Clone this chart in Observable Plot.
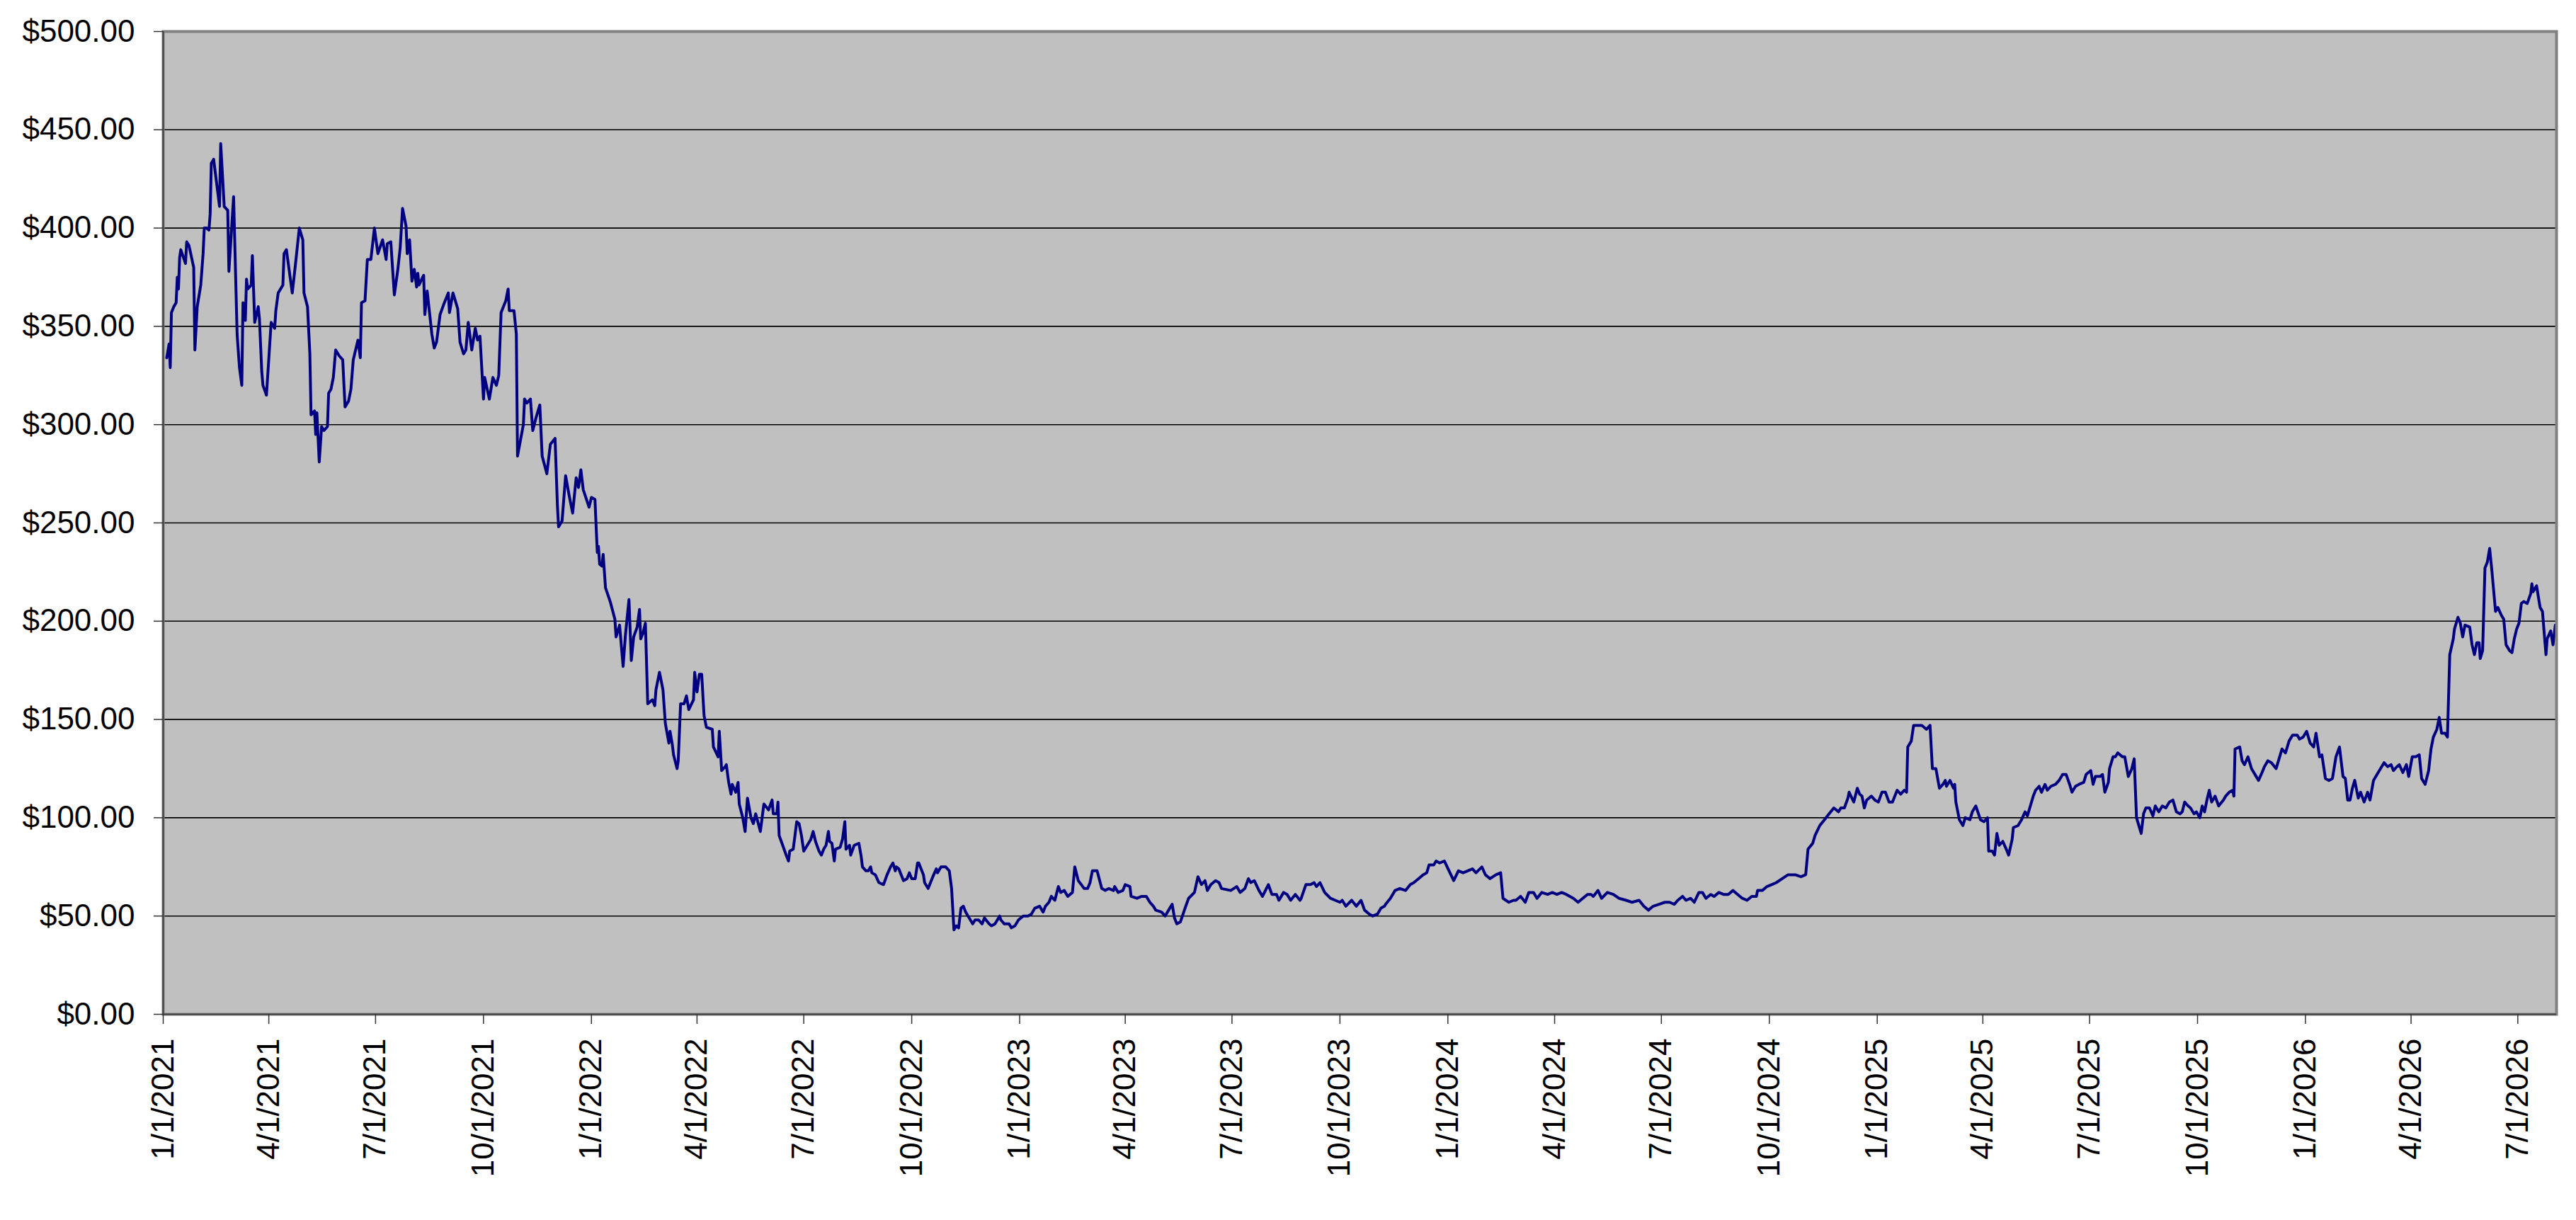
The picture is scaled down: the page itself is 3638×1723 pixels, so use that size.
<!DOCTYPE html>
<html><head><meta charset="utf-8">
<script src="https://cdn.jsdelivr.net/npm/d3@7"></script>
<script src="https://cdn.jsdelivr.net/npm/@observablehq/plot@0.6"></script>
<style>
html,body{margin:0;padding:0;background:#fff;}
#chart svg{display:block;}
</style></head><body><div id="chart"></div>
<script>
// ---- data ----
const startDate = "2021-01-01";
const endDate = "2026-08-03";

// days since 2021-01-01
const dayOffsets = [
3,5,6,7,9,11,12,13,14,15,19,20,22,26,27,29,32,34,35,37,39,40,41,43,48,49,52,55,56,60,63,65,67,68,70,71,72,75,76,78,81,82,84,85,88,92,95,96,98,102,103,105,110,113,116,119,120,123,125,126,129,130,131,133,135,137,140,141,143,145,147,150,153,155,158,160,162,166,168,169,172,174,177,180,183,187,190,191,194,197,200,202,204,207,208,210,212,214,216,217,218,222,223,225,229,231,233,236,239,243,244,247,251,253,256,258,260,263,266,268,270,273,274,278,281,284,286,288,292,294,295,299,301,302,307,308,310,313,315,318,321,323,327,330,334,336,337,340,343,346,349,352,354,356,358,363,365,368,370,371,372,374,375,377,381,385,386,389,392,394,397,399,401,
404,406,407,409,411,413,417,419,420,423,426,428,431,432,434,435,438,439,441,444,446,448,452,453,455,457,459,461,463,468,469,473,474,476,479,480,482,484,485,488,490,491,494,496,498,501,503,505,509,512,516,519,520,523,524,525,528,531,533,534,537,540,542,544,546,552,554,556,559,561,563,565,567,568,570,572,573,577,579,581,582,585,586,589,593,595,596,599,601,603,604,607,610,614,617,620,622,624,625,627,631,634,636,638,641,643,644,648,649,652,656,659,660,663,667,670,672,674,676,678,680,682,684,686,690,692,695,698,700,704,706,709,713,714,717,721,723,726,729,733,737,740,743,747,750,752,755,757,760,763,765,768,771,775,777,780,785,788,790,792,796,800,803,806,810,811,814,818,820,
824,825,830,834,838,841,844,846,851,854,857,860,862,864,867,871,874,879,882,885,888,890,893,897,900,902,910,915,918,922,925,927,930,934,937,942,945,949,951,955,958,961,965,969,970,974,978,981,983,986,990,995,999,1003,1005,1008,1013,1017,1021,1024,1028,1031,1035,1038,1041,1042,1046,1050,1054,1059,1063,1066,1070,1074,1077,1079,1083,1085,1088,1092,1096,1100,1104,1108,1112,1116,1119,1124,1127,1131,1136,1140,1142,1147,1151,1153,1157,1161,1164,1168,1171,1175,1180,1184,1188,1192,1196,1202,1206,1210,1214,1217,1219,1223,1226,1231,1236,1241,1247,1252,1258,1262,1266,1270,1275,1280,1284,1288,1291,1295,1298,1302,1305,1309,1312,1315,1319,1322,1326,1330,1334,1338,1342,1346,1350,1354,1358,1359,1363,1367,1371,1375,1380,1385,1391,1396,1400,1402,1406,1408,1412,1416,1420,
1424,1428,1430,1433,1436,1437,1441,1444,1446,1448,1450,1452,1456,1459,1462,1465,1468,1471,1474,1476,1478,1481,1484,1486,1487,1490,1492,1496,1499,1503,1506,1508,1511,1514,1517,1519,1520,1523,1526,1527,1528,1531,1534,1536,1540,1542,1545,1549,1552,1555,1556,1559,1561,1563,1565,1568,1571,1573,1576,1577,1581,1584,1587,1589,1591,1594,1596,1599,1601,1604,1606,1609,1613,1616,1619,1622,1625,1627,1630,1633,1637,1639,1643,1645,1647,1651,1653,1655,1658,1659,1662,1664,1666,1670,1672,1675,1678,1680,1682,1686,1688,1690,1693,1696,1698,1701,1704,1707,1710,1713,1716,1719,1721,1723,1726,1728,1731,1733,1736,1738,1740,1742,1744,1746,1749,1752,1756,1758,1761,1764,1765,1766,1770,1772,1774,1777,1780,1784,1786,1789,1791,1794,1797,1801,1803,1806,1809,1812,1815,1819,1821,1824,1827,1830,1833,1835,1838,1840,1843,1846,1849,1852,1855,1858,1860,1862,1864,1866,1868,1871,1873,1876,1879,1881,1884,1887,1889,1893,1896,1899,1901,1904,1906,1909,1912,1914,1917,1920,1923,1925,1928,1931,1933,1935,1938,1940,1942,1945,1947,1949,1952,1953,1956,1958,1960,1962,1966,1968,1970,1972,1974,1975,1977,1979,1981,1983,1985,1988,1990,1993,1995,1997,2000,2002,2004,2006,2008,2010,2012,2015,2018,2019,2020,2023,2026,2028,2031,2032,2035,2037,2039
];

const prices = [
334,341,329,357,360,362,375,369,385,389,382,393,391,380,338,360,371,387,400,400,399,407,433,435,411,443,411,409,378,416,346,329,320,362,353,374,369,371,386,352,360,354,327,320,315,352,349,358,367,371,387,389,367,383,400,394,367,360,336,305,307,295,306,281,299,297,299,316,318,324,338,335,333,309,312,318,333,343,334,362,363,384,384,400,387,394,384,392,393,366,379,390,410,401,387,394,373,379,370,377,371,376,356,368,346,339,342,356,361,367,357,367,359,342,336,338,352,338,349,343,345,313,324,313,324,320,325,357,363,369,358,358,346,284,300,313,311,313,297,304,310,284,275,290,293,259,248,251,274,264,255,273,268,277,267,258,263,262,235,238,229,228,234,217,210,201,192,198,177,193,211,180,192,
197,206,191,194,199,158,160,157,165,174,165,148,138,144,137,132,125,129,158,158,162,155,160,174,164,173,173,152,146,145,136,131,144,124,126,127,118,112,117,113,118,107,100,93,110,100,97,102,93,107,104,109,102,102,108,91,86,81,78,83,84,98,97,91,83,89,93,88,83,81,84,86,93,88,87,78,84,85,89,98,84,86,81,86,87,80,75,73,73,75,72,71,67,66,71,75,77,73,75,74,68,69,72,69,69,77,77,71,67,64,70,74,72,75,75,73,64,43,45,44,54,55,52,50,46,48,48,46,49,46,45,46,50,48,46,46,44,45,48,50,50,51,54,55,52,55,57,60,58,65,62,63,60,62,75,68,64,64,67,73,73,64,63,64,63,65,62,63,66,
65,60,59,60,60,57,55,53,52,50,53,56,49,46,47,54,59,62,70,66,68,63,66,68,67,64,63,65,62,64,69,67,68,63,60,66,61,61,58,62,61,58,61,58,59,66,66,67,65,67,62,59,58,57,58,55,58,55,58,53,51,50,51,54,55,56,59,63,64,63,66,67,69,71,72,76,76,78,77,78,73,68,73,72,73,74,72,75,71,69,71,72,59,57,58,58,60,57,62,62,59,62,61,62,61,62,61,59,57,59,61,61,60,63,59,62,61,59,58,57,58,55,53,55,56,57,57,56,58,60,58,59,57,62,62,59,61,60,62,61,61,63,61,59,58,60,60,63,63,65,66,67,69,71,71,70,71,84,87,91,96,99,102,
105,103,105,105,110,113,108,115,112,111,105,109,111,109,108,113,113,108,108,111,114,112,114,113,136,139,147,147,147,145,147,125,125,115,117,119,116,119,115,117,108,99,96,100,99,103,106,99,98,100,83,83,81,92,86,88,84,81,89,95,96,99,103,101,105,111,114,116,113,117,114,116,117,119,122,122,117,113,116,117,118,122,124,117,121,121,122,113,118,125,131,131,133,131,131,121,125,130,100,92,102,105,105,101,106,103,106,105,108,109,103,102,103,108,106,105,102,103,100,106,103,109,114,108,111,106,109,111,113,114,111,135,136,129,127,131,125,121,119,123,126,129,128,125,129,135,133,139,142,142,140,141,144,138,136,143,131,132,120,119,120,131,136,121,120,109,109,115,119,110,113,108,113,109,119,122,124,128,126,127,124,126,127,123,127,121,131,131,132,120,117,124,135,141,145,151,143,143,141,183,191,196,202,199,192,198,197,188,183,189,189,181,185,227,230,237,225,205,207,203,201,188,185,184,191,196,199,209,210,209,214,219,215,218,207,205,183,191,195,188,198
];

const yTicks = [0, 50, 100, 150, 200, 250, 300, 350, 400, 450, 500];
const xTickDates = [
"2021-01-01","2021-04-01","2021-07-01","2021-10-01",
"2022-01-01","2022-04-01","2022-07-01","2022-10-01",
"2023-01-01","2023-04-01","2023-07-01","2023-10-01",
"2024-01-01","2024-04-01","2024-07-01","2024-10-01",
"2025-01-01","2025-04-01","2025-07-01","2025-10-01",
"2026-01-01","2026-04-01","2026-07-01"
];

// ---- build ----
const start = new Date(startDate + "T00:00:00Z");
const end = new Date(endDate + "T00:00:00Z");
const n = Math.min(dayOffsets.length, prices.length);
const data = [];
for (let i = 0; i < n; i++) data.push({date: d3.utcDay.offset(start, dayOffsets[i]), price: prices[i]});
const tickDates = xTickDates.map(s => new Date(s + "T00:00:00Z"));
const fmtDate = d => `${d.getUTCMonth() + 1}/${d.getUTCDate()}/${d.getUTCFullYear()}`;
const fmtMoney = v => "$" + v.toFixed(2);

const chart = Plot.plot({
  width: 3638,
  height: 1723,
  marginLeft: 230,
  marginRight: 28,
  marginTop: 44,
  marginBottom: 291,
  style: {fontFamily: "'Liberation Sans', Arial, sans-serif", fontSize: "44px", color: "#000", background: "#fff", overflow: "visible"},
  x: {type: "utc", domain: [start, end], label: null},
  y: {domain: [0, 500], label: null},
  marks: [
    Plot.frame({fill: "#C0C0C0"}),
    Plot.ruleY(yTicks.filter(v => v > 0 && v < 500), {stroke: "#000", strokeWidth: 1.6}),
    Plot.line(data, {x: "date", y: "price", stroke: "#000080", strokeWidth: 4, strokeLinejoin: "round", strokeLinecap: "round"}),
    Plot.frame({stroke: "#808080", strokeWidth: 4}),
    Plot.ruleY([0], {stroke: "#404040", strokeWidth: 2}),
    Plot.ruleX([start], {stroke: "#404040", strokeWidth: 2}),
    Plot.axisY(yTicks, {label: null, tickSize: 13, tickPadding: 27, tickFormat: fmtMoney, stroke: "#333", strokeWidth: 1.5, fontSize: 44, fill: "#000"}),
    Plot.axisX(tickDates, {label: null, tickSize: 14, tickPadding: 20, tickRotate: -90, tickFormat: fmtDate, stroke: "#333", strokeWidth: 1.5, fontSize: 44, fill: "#000"})
  ]
});
document.getElementById("chart").appendChild(chart);
</script>
</body></html>
